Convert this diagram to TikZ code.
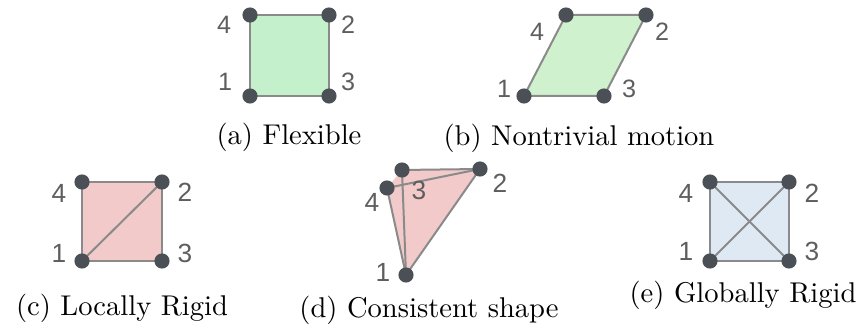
\documentclass[tikz,border=0pt]{standalone}
\usepackage{fontspec}
\newfontfamily\numfont{Liberation Sans}
\definecolor{edgegray}{HTML}{8A8A8A}
\definecolor{dotgray}{HTML}{4B5057}
\definecolor{numgray}{HTML}{5E5E5E}
\definecolor{fillgreen}{HTML}{C4F1CB}
\definecolor{fillgreenb}{HTML}{D0F1CD}
\definecolor{fillpink}{HTML}{F2CACA}
\definecolor{fillblue}{HTML}{DEE9F4}
\begin{document}
\begin{tikzpicture}[x=0.35pt,y=-0.35pt,
  vtx/.style={circle,fill=dotgray,inner sep=0pt,minimum size=5.3pt},
  edge/.style={draw=edgegray,line width=0.7pt},
  numtop/.style={text=numgray,font=\numfont\fontsize{8.8}{10}\selectfont,inner sep=0pt},
  numbot/.style={text=numgray,font=\numfont\fontsize{9.2}{10}\selectfont,inner sep=0pt},
  captext/.style={anchor=base,inner sep=0pt,font=\fontsize{10}{12}\selectfont}]
\useasboundingbox (0,0) rectangle (863,335);

% (a) Flexible
\coordinate (a1) at (250,96);
\coordinate (a2) at (329,15);
\coordinate (a3) at (329,96);
\coordinate (a4) at (250,15);
\fill[fillgreen] (a1) -- (a4) -- (a2) -- (a3) -- cycle;
\draw[edge] (a1) -- (a4) -- (a2) -- (a3) -- cycle;
\foreach \i in {1,2,3,4} \node[vtx] (va\i) at (a\i) {};
\node[numtop] (la4) at (224,25) {4};
\node[numtop] (la2) at (348,25) {2};
\node[numtop] (la1) at (225,82) {1};
\node[numtop] (la3) at (348,82) {3};
\node[captext] (capa) at (289,145) {(a) Flexible};

% (b) Nontrivial motion
\coordinate (b1) at (524,96);
\coordinate (b2) at (646,15);
\coordinate (b3) at (604,96);
\coordinate (b4) at (566,15);
\fill[fillgreenb] (b1) -- (b4) -- (b2) -- (b3) -- cycle;
\draw[edge] (b1) -- (b4) -- (b2) -- (b3) -- cycle;
\foreach \i in {1,2,3,4} \node[vtx] (vb\i) at (b\i) {};
\node[numtop] (lb4) at (537,32) {4};
\node[numtop] (lb2) at (662,32) {2};
\node[numtop] (lb1) at (504,89) {1};
\node[numtop] (lb3) at (629,89) {3};
\node[captext] (capb) at (579,146) {(b) Nontrivial motion};

% (c) Locally Rigid
\coordinate (c1) at (82,261);
\coordinate (c2) at (162,182);
\coordinate (c3) at (162,261);
\coordinate (c4) at (82,182);
\fill[fillpink] (c1) -- (c4) -- (c2) -- (c3) -- cycle;
\draw[edge] (c1) -- (c4) -- (c2) -- (c3) -- cycle;
\draw[edge] (c1) -- (c2);
\foreach \i in {1,2,3,4} \node[vtx] (vc\i) at (c\i) {};
\node[numbot] (lc4) at (59,193) {4};
\node[numbot] (lc2) at (185,192) {2};
\node[numbot] (lc1) at (59,253) {1};
\node[numbot] (lc3) at (185,253) {3};
\node[captext] (capc) at (122,316) {(c) Locally Rigid};

% (d) Consistent shape
\coordinate (d1) at (406,275);
\coordinate (d2) at (480,169);
\coordinate (d3) at (402,170);
\coordinate (d4) at (387,188);
\fill[fillpink] (d1) -- (d4) -- (d3) -- (d2) -- cycle;
\draw[edge] (d1) -- (d4) -- (d2);
\draw[edge] (d1) -- (d3) -- (d2);
\draw[edge] (d1) -- (d2);
\foreach \i in {1,2,3,4} \node[vtx] (vd\i) at (d\i) {};
\node[numbot] (ld3) at (419,190) {3};
\node[numbot] (ld2) at (500,183) {2};
\node[numbot] (ld4) at (372,202) {4};
\node[numbot] (ld1) at (383,272) {1};
\node[captext] (capd) at (429,318) {(d) Consistent shape};

% (e) Globally Rigid
\coordinate (e1) at (710,261);
\coordinate (e2) at (789,182);
\coordinate (e3) at (789,261);
\coordinate (e4) at (710,182);
\fill[fillblue] (e1) -- (e4) -- (e2) -- (e3) -- cycle;
\draw[edge] (e1) -- (e4) -- (e2) -- (e3) -- cycle;
\draw[edge] (e1) -- (e2);
\draw[edge] (e4) -- (e3);
\foreach \i in {1,2,3,4} \node[vtx] (ve\i) at (e\i) {};
\node[numbot] (le4) at (686,193) {4};
\node[numbot] (le2) at (812,193) {2};
\node[numbot] (le1) at (686,251) {1};
\node[numbot] (le3) at (812,251) {3};
\node[captext] (cape) at (743,303) {(e) Globally Rigid};
\end{tikzpicture}
\end{document}
